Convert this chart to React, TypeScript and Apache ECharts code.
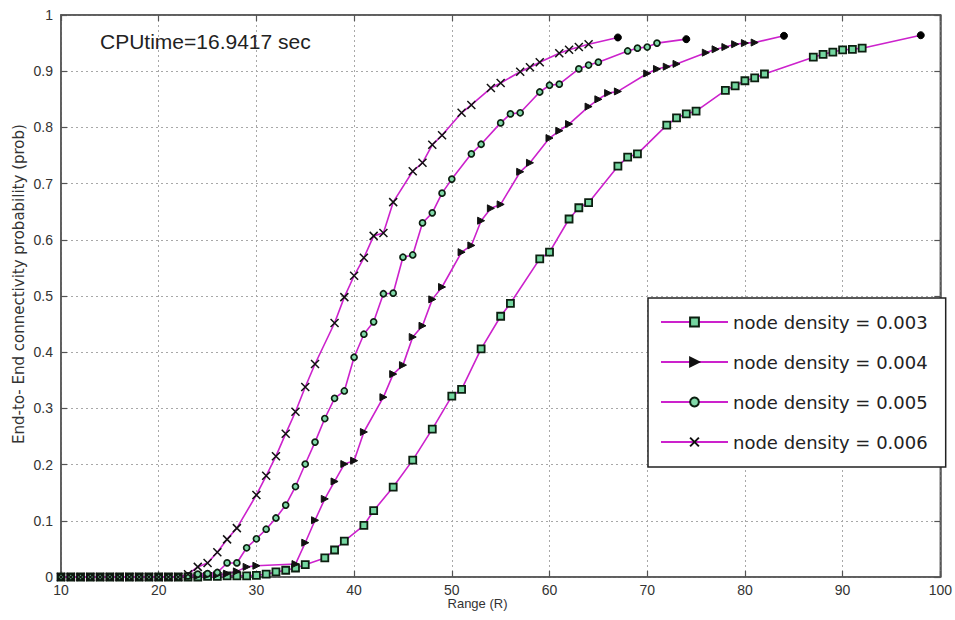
import React, { useEffect, useRef } from "react";
import * as echarts from "echarts";

// ---------- data ----------
const seriesNames = [
  "node density = 0.003",
  "node density = 0.004",
  "node density = 0.005",
  "node density = 0.006",
];

const rangeD003 = [10, 11, 12, 13, 14, 15, 16, 17, 18, 19, 20, 21, 22, 23, 24, 25, 26, 27, 28, 29, 30, 31, 32, 33, 34, 35, 37, 38, 39, 41, 42, 44, 46, 48, 50, 51, 53, 55, 56, 59, 60, 62, 63, 64, 67, 68, 69, 72, 73, 74, 75, 78, 79, 80, 81, 82, 87, 88, 89, 90, 91, 92, 98];
const probD003 = [0, 0, 0, 0, 0, 0, 0, 0, 0, 0, 0, 0, 0, 0, 0, 0.001, 0.001, 0.002, 0.002, 0.002, 0.003, 0.005, 0.009, 0.012, 0.016, 0.022, 0.034, 0.048, 0.064, 0.092, 0.118, 0.16, 0.208, 0.263, 0.322, 0.334, 0.406, 0.464, 0.487, 0.566, 0.578, 0.637, 0.657, 0.666, 0.731, 0.747, 0.753, 0.804, 0.817, 0.824, 0.829, 0.866, 0.874, 0.883, 0.888, 0.895, 0.925, 0.93, 0.934, 0.938, 0.939, 0.941, 0.964];

const rangeD004 = [10, 11, 12, 13, 14, 15, 16, 17, 18, 19, 20, 21, 22, 23, 24, 25, 26, 27, 28, 29, 30, 34, 35, 36, 37, 38, 39, 40, 41, 43, 44, 45, 46, 47, 48, 49, 51, 52, 53, 54, 55, 57, 58, 60, 61, 62, 64, 65, 66, 67, 70, 71, 72, 73, 76, 77, 78, 79, 80, 81, 84];
const probD004 = [0, 0, 0, 0, 0, 0, 0, 0, 0, 0, 0, 0, 0, 0.001, 0.002, 0.003, 0.004, 0.006, 0.01, 0.018, 0.02, 0.023, 0.061, 0.101, 0.139, 0.17, 0.201, 0.207, 0.258, 0.32, 0.361, 0.377, 0.427, 0.447, 0.494, 0.516, 0.578, 0.59, 0.634, 0.656, 0.663, 0.721, 0.737, 0.781, 0.794, 0.806, 0.837, 0.85, 0.861, 0.864, 0.896, 0.904, 0.908, 0.913, 0.933, 0.939, 0.943, 0.948, 0.95, 0.951, 0.963];

const rangeD005 = [10, 11, 12, 13, 14, 15, 16, 17, 18, 19, 20, 21, 22, 23, 24, 25, 26, 27, 28, 29, 30, 31, 32, 33, 34, 35, 36, 37, 38, 39, 40, 41, 42, 43, 44, 45, 46, 47, 48, 49, 50, 52, 53, 55, 56, 57, 59, 60, 61, 63, 64, 65, 68, 69, 70, 71, 74];
const probD005 = [0, 0, 0, 0, 0, 0, 0, 0, 0, 0, 0, 0, 0, 0.002, 0.005, 0.006, 0.008, 0.025, 0.025, 0.052, 0.068, 0.085, 0.105, 0.128, 0.161, 0.201, 0.24, 0.282, 0.318, 0.331, 0.391, 0.432, 0.454, 0.504, 0.505, 0.569, 0.573, 0.63, 0.648, 0.683, 0.708, 0.753, 0.77, 0.808, 0.824, 0.826, 0.863, 0.875, 0.877, 0.904, 0.911, 0.916, 0.936, 0.941, 0.943, 0.95, 0.957];

const rangeD006 = [10, 11, 12, 13, 14, 15, 16, 17, 18, 19, 20, 21, 22, 23, 24, 25, 26, 27, 28, 30, 31, 32, 33, 34, 35, 36, 38, 39, 40, 41, 42, 43, 44, 46, 47, 48, 49, 51, 52, 54, 55, 57, 58, 59, 61, 62, 63, 64, 67];
const probD006 = [0, 0, 0, 0, 0, 0, 0, 0, 0, 0, 0, 0, 0, 0.005, 0.018, 0.025, 0.044, 0.067, 0.087, 0.146, 0.18, 0.215, 0.255, 0.294, 0.338, 0.379, 0.452, 0.498, 0.536, 0.568, 0.607, 0.612, 0.667, 0.722, 0.737, 0.769, 0.786, 0.826, 0.84, 0.87, 0.879, 0.899, 0.907, 0.916, 0.932, 0.938, 0.943, 0.948, 0.96];

const xTicks = { min: 10, max: 100, interval: 10 };
const yTicks = { min: 0, max: 1, interval: 0.1 };

const cpuText = "CPUtime=16.9417 sec";
const xName = "Range (R)";
const yName = "End-to- End connectivity probability (prob)";

// ---------- styling ----------
const LINE = "#cc22cc";
const AXIS = "#555";
const FONT = "'Liberation Sans', Arial, Helvetica, sans-serif";

function buildData(xs: number[], ys: number[]) {
  return xs.map((x, i) =>
    i === xs.length - 1
      ? {
          value: [x, ys[i]],
          symbol: "circle",
          symbolSize: 7,
          itemStyle: { color: "#000", borderColor: "#000", borderWidth: 1 },
        }
      : [x, ys[i]]
  );
}

export default function App() {
  const ref = useRef<HTMLDivElement>(null);

  useEffect(() => {
    if (!ref.current) return;
    const chart = echarts.init(ref.current, undefined, { renderer: "svg" });

    const common = {
      type: "line",
      animation: false,
      lineStyle: { color: LINE, width: 1.6 },
      emphasis: { disabled: true },
    };

    const option: any = {
      animation: false,
      backgroundColor: "#fff",
      grid: {
        left: 61,
        right: 14,
        top: 15,
        bottom: 43,
        show: true,
        borderColor: AXIS,
        borderWidth: 1.5,
        backgroundColor: "#fff",
      },
      xAxis: [
        {
          type: "value",
          ...xTicks,
          axisLine: { show: true, lineStyle: { color: AXIS, width: 1.5 } },
          axisTick: { show: true, inside: true, length: 6, lineStyle: { color: AXIS, width: 1.2 } },
          axisLabel: { margin: 6, fontSize: 14, color: "#333", fontFamily: FONT },
          splitLine: { show: true, lineStyle: { type: [2, 3], color: "#a8a8a8", width: 1 } },
        },
        {
          type: "value",
          position: "top",
          ...xTicks,
          axisLine: { show: true, onZero: false, lineStyle: { color: AXIS, width: 1.5 } },
          axisTick: { show: true, inside: true, length: 6, lineStyle: { color: AXIS, width: 1.2 } },
          axisLabel: { show: false },
          splitLine: { show: false },
        },
      ],
      yAxis: [
        {
          type: "value",
          ...yTicks,
          axisLine: { show: true, lineStyle: { color: AXIS, width: 1.5 } },
          axisTick: { show: true, inside: true, length: 6, lineStyle: { color: AXIS, width: 1.2 } },
          axisLabel: {
            margin: 8,
            fontSize: 14,
            color: "#333",
            fontFamily: FONT,
            formatter: (v: number) => (v === 0 || v === 1 ? String(v) : (Math.round(v * 10) / 10).toFixed(1)),
          },
          splitLine: { show: true, lineStyle: { type: [2, 3], color: "#a8a8a8", width: 1 } },
        },
        {
          type: "value",
          position: "right",
          ...yTicks,
          axisLine: { show: true, onZero: false, lineStyle: { color: AXIS, width: 1.5 } },
          axisTick: { show: true, inside: true, length: 6, lineStyle: { color: AXIS, width: 1.2 } },
          axisLabel: { show: false },
          splitLine: { show: false },
        },
      ],
      legend: {
        orient: "vertical",
        left: 648,
        top: 298,
        backgroundColor: "#fff",
        borderColor: "#222",
        borderWidth: 1.5,
        borderRadius: 0,
        padding: [15, 18, 16, 12],
        itemWidth: 67,
        itemHeight: 11,
        itemGap: 22,
        textStyle: { fontFamily: "'DejaVu Sans', sans-serif", fontSize: 18, lineHeight: 18, color: "#222" },
        data: seriesNames,
      },
      graphic: [
        {
          type: "text",
          left: 100,
          top: 31,
          style: { text: cpuText, fontSize: 21, fontFamily: FONT, fill: "#222" },
        },
        {
          type: "text",
          x: 19,
          y: 284,
          rotation: Math.PI / 2,
          style: {
            text: yName,
            x: 0,
            y: 0,
            align: "center",
            verticalAlign: "middle",
            fontSize: 15,
            fontFamily: "'DejaVu Sans', sans-serif",
            fill: "#333",
          },
        },
        {
          type: "text",
          left: "center",
          top: 597,
          style: { text: xName, fontSize: 13, fontFamily: FONT, fill: "#333" },
        },
      ],
      series: [
        {
          ...common,
          name: seriesNames[0],
          data: buildData(rangeD003, probD003),
          symbol: "rect",
          symbolSize: 7,
          itemStyle: { color: "#74d6a0", borderColor: "#0c1f10", borderWidth: 1.8 },
        },
        {
          ...common,
          name: seriesNames[1],
          data: buildData(rangeD004, probD004),
          symbol: "path://M0,0L10,5L0,10Z",
          symbolSize: 7,
          itemStyle: { color: "#111", borderColor: "#111", borderWidth: 1 },
        },
        {
          ...common,
          name: seriesNames[2],
          data: buildData(rangeD005, probD005),
          symbol: "circle",
          symbolSize: 6,
          itemStyle: { color: "#80d8a8", borderColor: "#0c1f10", borderWidth: 1.7 },
        },
        {
          ...common,
          name: seriesNames[3],
          data: buildData(rangeD006, probD006),
          symbol: "path://M0,0L10,10M10,0L0,10",
          symbolSize: 8,
          itemStyle: { color: "none", borderColor: "#111", borderWidth: 1.5 },
        },
      ],
    };

    chart.setOption(option);
    return () => chart.dispose();
  }, []);

  return (
    <div
      ref={ref}
      style={{ position: "fixed", left: 0, top: 0, width: 955, height: 620, background: "#fff" }}
    />
  );
}
